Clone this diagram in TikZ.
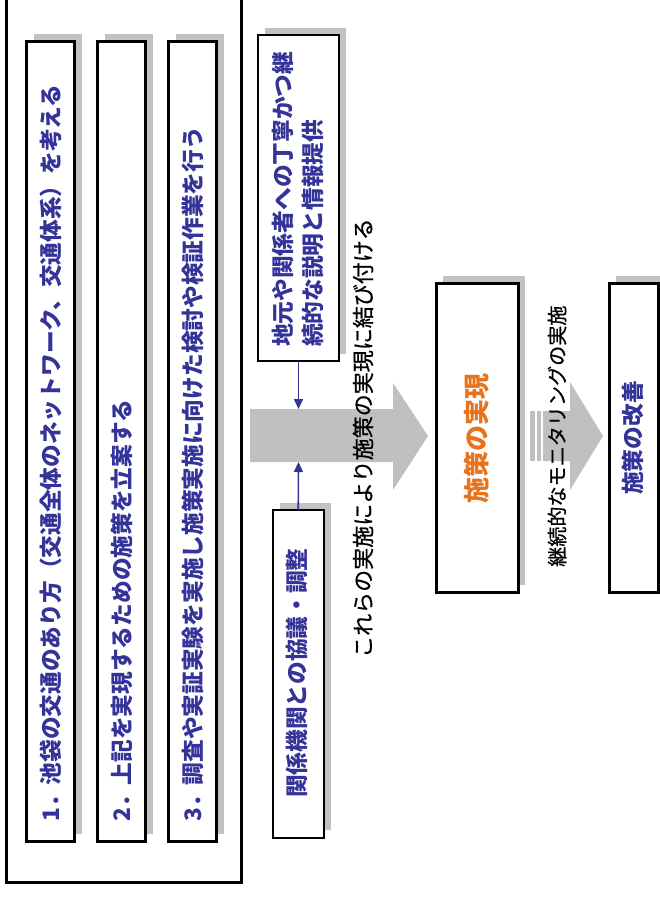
\documentclass[tikz,border=0pt]{standalone}
\usepackage{fontspec}
\newfontfamily\jp{Noto Sans CJK JP}
\newfontfamily\jpm{Noto Sans CJK JP}[FakeBold=0.7]
\usetikzlibrary{shadows,arrows.meta}
\definecolor{jblue}{HTML}{333399}
\definecolor{jorange}{HTML}{E8731A}
\definecolor{jgray}{HTML}{C0C0C0}
\begin{document}
\begin{tikzpicture}[x=1pt,y=-1pt,
  frame/.style={draw=black, line width=3pt, fill=white, inner sep=0pt, outer sep=0pt},
  thinframe/.style={draw=black, line width=2pt, fill=white, inner sep=0pt, outer sep=0pt},
  shad/.style={drop shadow={shadow xshift=7pt, shadow yshift=7.5pt, fill=black!24, opacity=1}},
  vtext/.style={rotate=90, anchor=west, inner sep=0pt},
  ctext/.style={rotate=90, anchor=center, inner sep=0pt},
  bluetxt/.style={text=jblue, font=\jp\bfseries\fontsize{22.7}{30}\selectfont},
  blacktxt/.style={text=black, font=\jpm\fontsize{22}{30}\selectfont},
  bluearrow/.style={draw=jblue, line width=1.6pt, -{Triangle[length=10pt,width=9pt]}},
  garrow/.style={fill=jgray, draw=none}
]
\useasboundingbox (0,0) rectangle (659,897);
\fill[white] (0,0) rectangle (659,897);

% outer frame
\node[frame, minimum width=235pt, minimum height=902.5pt] (outer) at (124,431.25) {};

% three item boxes
\node[frame, shad, minimum width=48pt, minimum height=800pt] (b1) at (50.5,441.5) {};
\node[frame, shad, minimum width=48pt, minimum height=800pt] (b2) at (121.5,441.5) {};
\node[frame, shad, minimum width=48pt, minimum height=800pt] (b3) at (192.5,441.5) {};
\node[vtext, bluetxt] (t1) at (51,822) {1．池袋の交通のあり方（交通全体のネットワーク、交通体系）を考える};
\node[vtext, bluetxt] (t2) at (122,822) {2．上記を実現するための施策を立案する};
\node[vtext, bluetxt] (t3) at (192.5,822) {3．調査や実証実験を実施し施策実施に向けた検討や検証作業を行う};

% big grey arrow
\fill[garrow] (250,409) -- (393,409) -- (393,383) -- (428,436) -- (393,490) -- (393,462) -- (250,462) -- cycle;
\coordinate (gtop) at (298.5,409);
\coordinate (gbot) at (298.5,462);

% side boxes
\node[thinframe, shad, minimum width=81pt, minimum height=326pt] (jimoto) at (298.5,198) {};
\node[vtext, bluetxt] (tj1) at (283,347) {地元や関係者への丁寧かつ継};
\node[vtext, bluetxt] (tj2) at (313,347) {続的な説明と情報提供};
\node[thinframe, shad, minimum width=50.5pt, minimum height=327.5pt] (kankei) at (298.25,673.75) {};
\node[vtext, bluetxt] (tk) at (297,798) {関係機関との協議・調整};
\draw[bluearrow] (jimoto.south) -- (gtop);
\draw[bluearrow] (kankei.north) -- (gbot);

\node[vtext, blacktxt] (tkore) at (363,658) {これらの実施により施策の実現に結び付ける};

% result box
\node[frame, shad, minimum width=82pt, minimum height=309pt] (jitsugen) at (477,438) {};
\node[ctext, text=jorange, font=\jp\bfseries\fontsize{26}{30}\selectfont] (tjit) at (477,438) {施策の実現};

% striped arrow
\fill[garrow] (530,411) rectangle (534.5,461);
\fill[garrow] (537,411) rectangle (540.5,461);
\fill[garrow] (543,411) -- (570,411) -- (570,382) -- (603,436) -- (570,490) -- (570,461) -- (543,461) -- cycle;
\node[vtext, blacktxt, font=\jpm\fontsize{20.1}{30}\selectfont] (tmon) at (557,567) {継続的なモニタリングの実施};

% improvement box
\node[frame, shad, minimum width=49.5pt, minimum height=309pt] (kaizen) at (633.75,438) {};
\node[ctext, bluetxt] (tkai) at (633,438) {施策の改善};
\end{tikzpicture}
\end{document}
